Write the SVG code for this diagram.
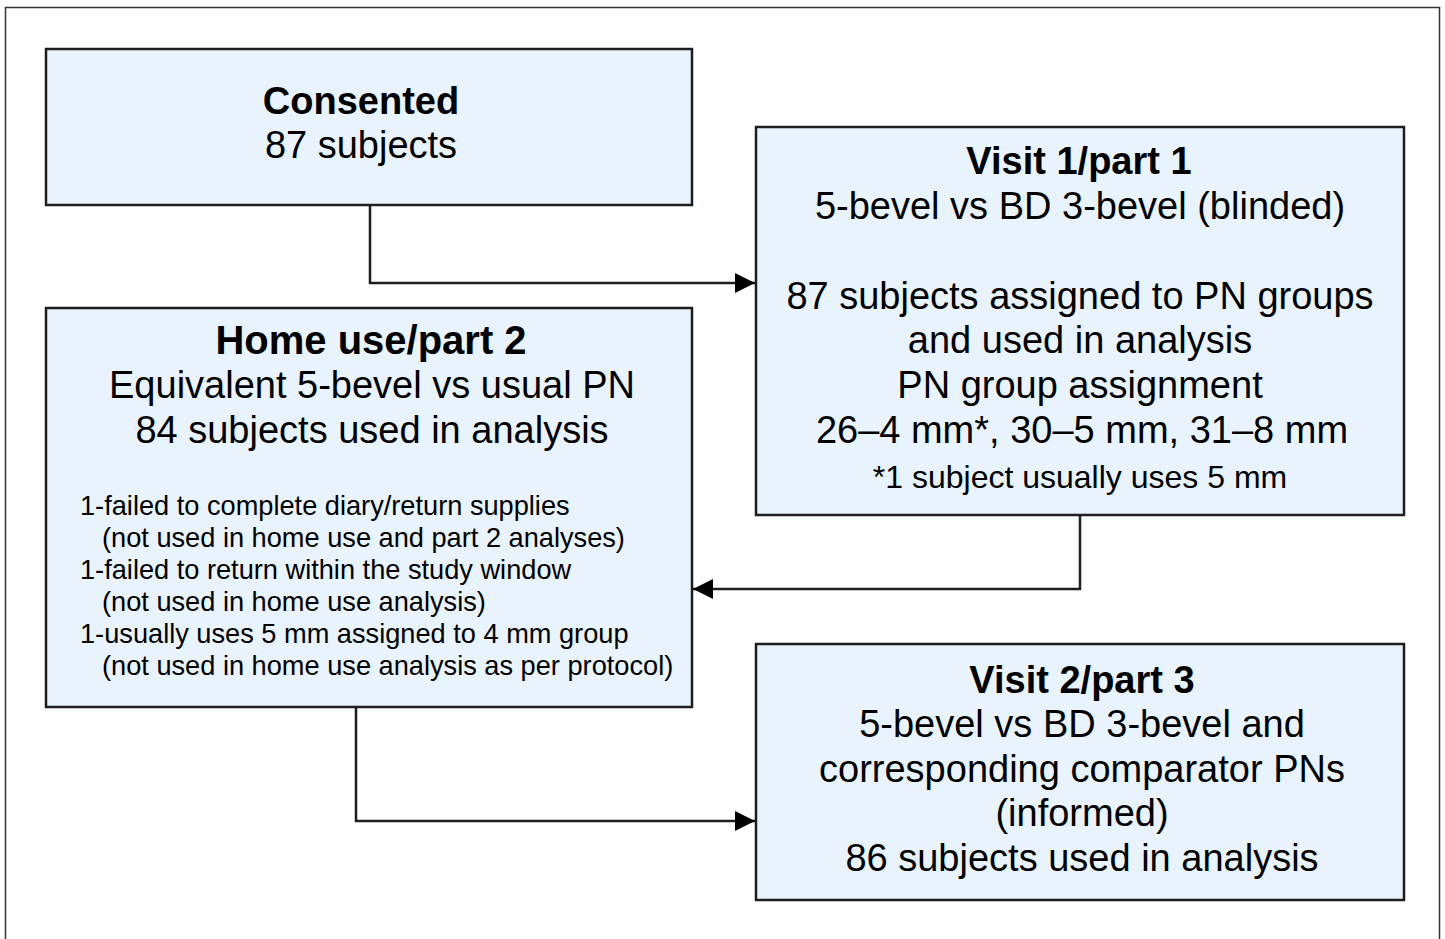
<svg xmlns="http://www.w3.org/2000/svg" width="1445" height="939" viewBox="0 0 1445 939">
<style>
.box{fill:#e8f3fd;stroke:#1e1e1e;stroke-width:2.5}
.t{font-family:"Liberation Sans",Arial,sans-serif;font-size:38px;fill:#000;text-anchor:middle}
.b{font-weight:bold}
.s{font-family:"Liberation Sans",Arial,sans-serif;font-size:27.2px;fill:#000}
.c{fill:none;stroke:#1e1e1e;stroke-width:2.5}
</style>
<defs>
<marker id="ah" markerWidth="20" markerHeight="20" refX="20" refY="10" orient="auto" markerUnits="userSpaceOnUse">
<path d="M0,0 L20,10 L0,20 Z" fill="#000"/>
</marker>
</defs>
<rect width="1445" height="939" fill="#fff"/>
<rect x="5.5" y="7.5" width="1434" height="945" fill="none" stroke="#333" stroke-width="1.5"/>
<g id="connectors">
<path class="c" d="M370,205 V283 H755" marker-end="url(#ah)"/>
<path class="c" d="M1080,515 V589 H693" marker-end="url(#ah)"/>
<path class="c" d="M356,707 V821 H755" marker-end="url(#ah)"/>
</g>
<g id="consented">
<rect class="box" x="46" y="49" width="646" height="156"/>
<text class="t b" x="361" y="114">Consented</text>
<text class="t" x="361" y="158">87 subjects</text>
</g>
<g id="visit1">
<rect class="box" x="756" y="127" width="648" height="388"/>
<text class="t b" x="1079" y="174">Visit 1/part 1</text>
<text class="t" x="1080" y="219">5-bevel vs BD 3-bevel (blinded)</text>
<text class="t" x="1080" y="309">87 subjects assigned to PN groups</text>
<text class="t" x="1080" y="353">and used in analysis</text>
<text class="t" x="1080" y="398">PN group assignment</text>
<text class="t" x="1082" y="443">26–4 mm*, 30–5 mm, 31–8 mm</text>
<text class="t" x="1080" y="488" style="font-size:32px">*1 subject usually uses 5 mm</text>
</g>
<g id="homeuse">
<rect class="box" x="46" y="308" width="646" height="399"/>
<text class="t b" x="371" y="354" style="font-size:40px">Home use/part 2</text>
<text class="t" x="372" y="398">Equivalent 5-bevel vs usual PN</text>
<text class="t" x="372" y="443">84 subjects used in analysis</text>
<text class="s" x="80" y="515">1-failed to complete diary/return supplies</text>
<text class="s" x="102" y="547">(not used in home use and part 2 analyses)</text>
<text class="s" x="80" y="579">1-failed to return within the study window</text>
<text class="s" x="102" y="611">(not used in home use analysis)</text>
<text class="s" x="80" y="643">1-usually uses 5 mm assigned to 4 mm group</text>
<text class="s" x="102" y="675">(not used in home use analysis as per protocol)</text>
</g>
<g id="visit2">
<rect class="box" x="756" y="644" width="648" height="256"/>
<text class="t b" x="1082" y="693">Visit 2/part 3</text>
<text class="t" x="1082" y="737">5-bevel vs BD 3-bevel and</text>
<text class="t" x="1082" y="782">corresponding comparator PNs</text>
<text class="t" x="1082" y="826">(informed)</text>
<text class="t" x="1082" y="871">86 subjects used in analysis</text>
</g>
</svg>
